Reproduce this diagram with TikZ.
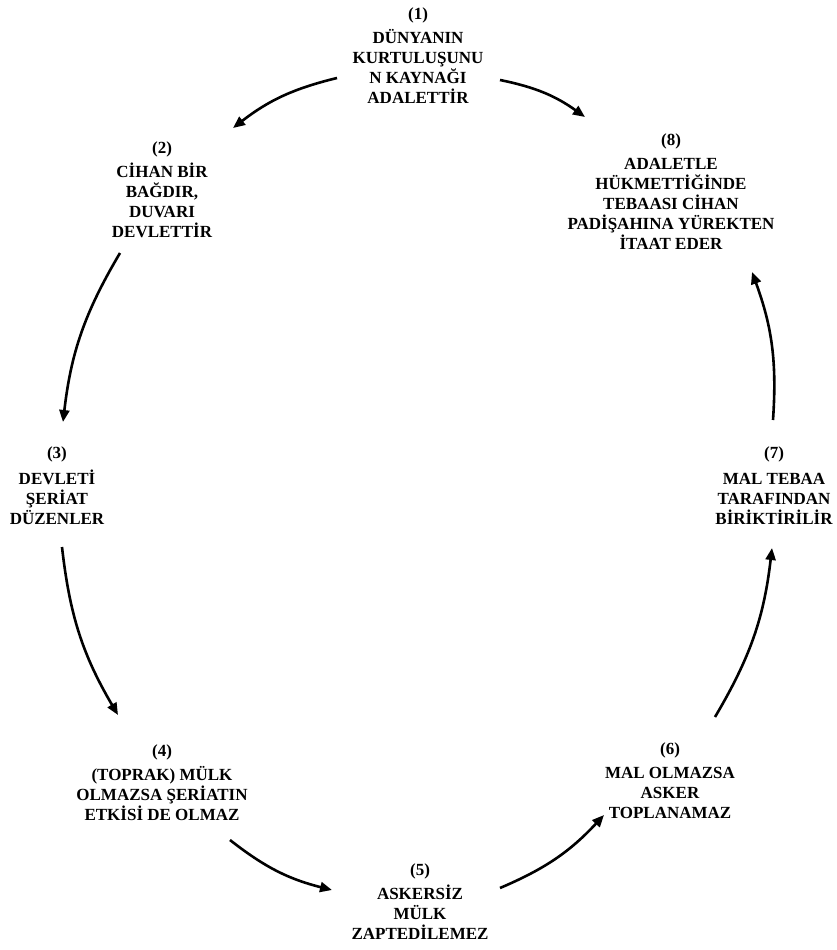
\documentclass[tikz,border=0pt]{standalone}
\usepackage{fontspec}
\setmainfont{Liberation Serif}
\usetikzlibrary{arrows.meta}
\begin{document}
\begin{tikzpicture}[x=1pt,y=-1pt,
  box/.style={align=center,font=\fontsize{17}{20}\selectfont\bfseries,inner sep=2pt},
  flow/.style={line width=2.6pt,-{Triangle[length=12pt,width=10pt]}}]
\useasboundingbox[fill=white] (0,0) rectangle (837,950);
\node[box] (n1) at (418,56) {(1)\\[4pt]DÜNYANIN\\KURTULUŞUNU\\N KAYNAĞI\\ADALETTİR};
\node[box] (n2) at (162,190) {(2)\\[4pt]CİHAN BİR\\BAĞDIR,\\DUVARI\\DEVLETTİR};
\node[box] (n8) at (671,192) {(8)\\[4pt]ADALETLE\\HÜKMETTİĞİNDE\\TEBAASI CİHAN\\PADİŞAHINA YÜREKTEN\\İTAAT EDER};
\node[box] (n3) at (57,486) {(3)\\[6pt]DEVLETİ\\ŞERİAT\\DÜZENLER};
\node[box] (n7) at (774,486) {(7)\\[6pt]MAL TEBAA\\TARAFINDAN\\BİRİKTİRİLİR};
\node[box] (n4) at (162,783) {(4)\\[4pt](TOPRAK) MÜLK\\OLMAZSA ŞERİATIN\\ETKİSİ DE OLMAZ};
\node[box] (n6) at (670,781) {(6)\\[4pt]MAL OLMAZSA\\ASKER\\TOPLANAMAZ};
\node[box] (n5) at (420,902) {(5)\\[4pt]ASKERSİZ\\MÜLK\\ZAPTEDİLEMEZ};
% connector end points
\coordinate (s12) at (337,78);  \coordinate (t12) at (233,128);
\coordinate (s18) at (500,80);  \coordinate (t18) at (585,117);
\coordinate (s23) at (120,253); \coordinate (t23) at (63,422);
\coordinate (s34) at (62,547);  \coordinate (t34) at (118,715);
\coordinate (s45) at (230,840); \coordinate (t45) at (332,890);
\coordinate (s56) at (500,888); \coordinate (t56) at (604,815);
\coordinate (s67) at (715,717); \coordinate (t67) at (772,548);
\coordinate (s78) at (773,420); \coordinate (t78) at (752,272);
\draw[flow] (s12) to[bend right=12] (t12);
\draw[flow] (s18) to[bend left=12] (t18);
\draw[flow] (s23) to[bend right=12] (t23);
\draw[flow] (s34) to[bend right=12] (t34);
\draw[flow] (s45) to[bend right=12] (t45);
\draw[flow] (s56) to[bend right=12] (t56);
\draw[flow] (s67) to[bend right=12] (t67);
\draw[flow] (s78) to[bend right=12] (t78);
\end{tikzpicture}
\end{document}
